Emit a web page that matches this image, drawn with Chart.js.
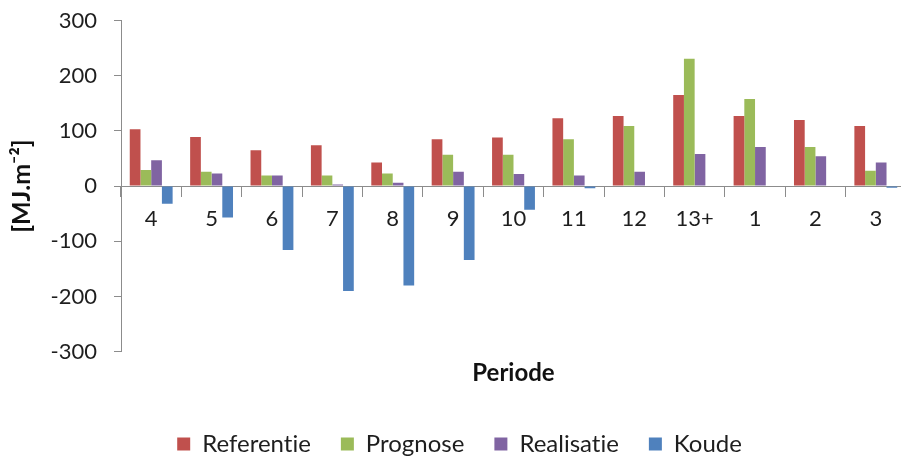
<!DOCTYPE html>
<html>
<head>
<meta charset="utf-8">
<script src="https://cdn.jsdelivr.net/npm/chart.js@4/dist/chart.umd.min.js"></script>
<style>
  html, body { margin: 0; padding: 0; background: #ffffff; overflow: hidden; }
  #wrap { position: absolute; left: 0; top: 0; }
</style>
</head>
<body>
<div id="wrap"><canvas id="c" width="920" height="466"></canvas></div>
<script>
// Periods (x categories)
const periods = ['4', '5', '6', '7', '8', '9', '10', '11', '12', '13+', '1', '2', '3'];

// Energy per period, MJ.m-2
const referentie = [103, 89, 65, 74, 43, 85, 88, 123, 127, 165, 127, 120, 109];
const prognose   = [29, 26, 19, 19, 23, 57, 57, 85, 109, 231, 158, 71, 28];
const realisatie = [47, 23, 19, 3, 6, 26, 22, 19, 26, 58, 71, 54, 43];
const koude      = [-32, -57, -116, -190, -180, -134, -43, -4, 0, 0, 0, 0, -3];

// Value axis ticks
const yTicks = [-300, -200, -100, 0, 100, 200, 300];

const FAMILY = 'Lato, "DejaVu Sans", sans-serif';
const AXIS_GREY = '#8c8c8c';
const TEXT = '#1e1e1e';

Chart.defaults.font.family = FAMILY;
Chart.defaults.color = TEXT;

const series = [
  { label: 'Referentie', data: referentie, color: '#C0504D' },
  { label: 'Prognose',   data: prognose,   color: '#9BBB59' },
  { label: 'Realisatie', data: realisatie, color: '#8064A2' },
  { label: 'Koude',      data: koude,      color: '#4F81BD' }
];

// Plain glyphs (no "ti" ligature) for all canvas text
const plainText = {
  id: 'plainText',
  beforeDraw(chart) {
    chart.ctx.textRendering = 'optimizeSpeed';
    chart.ctx.fontVariantLigatures = 'none';
  }
};

new Chart(document.getElementById('c'), {
  type: 'bar',
  plugins: [plainText],
  data: {
    labels: periods,
    datasets: series.map(s => ({
      label: s.label,
      data: s.data,
      backgroundColor: s.color,
      borderWidth: 0,
      xAxisID: 'x',
      yAxisID: 'y',
      barPercentage: 1.0,
      categoryPercentage: 0.71
    }))
  },
  options: {
    responsive: false,
    animation: false,
    layout: { padding: { top: 20.6, right: 0, bottom: 0, left: 0 } },
    plugins: {
      legend: {
        position: 'bottom',
        labels: {
          boxWidth: 13,
          boxHeight: 13,
          padding: 30,
          color: TEXT,
          font: { size: 24, family: FAMILY }
        }
      },
      tooltip: { enabled: false }
    },
    scales: {
      y: {
        type: 'linear',
        position: 'left',
        min: -300,
        max: 300,
        afterBuildTicks: scale => { scale.ticks = yTicks.map(v => ({ value: v })); },
        afterFit: scale => {
          scale.width = 121;
          scale.paddingTop = 0;
          scale.paddingBottom = 0;
        },
        grid: {
          drawOnChartArea: false,
          drawTicks: true,
          tickLength: 7,
          color: AXIS_GREY
        },
        border: { display: true, color: AXIS_GREY, width: 1 },
        ticks: {
          padding: 17,
          color: TEXT,
          font: { size: 22, family: FAMILY }
        },
        title: {
          display: true,
          text: '[MJ.m⁻²]',
          color: '#111111',
          padding: { top: 7, bottom: 0 },
          font: { size: 25, weight: 'bold', family: FAMILY }
        }
      },
      // empty right-hand strip beside the plot
      yRight: {
        type: 'linear',
        position: 'right',
        min: -300,
        max: 300,
        afterFit: scale => {
          scale.width = 14;
          scale.paddingTop = 0;
          scale.paddingBottom = 0;
        },
        grid: { display: false },
        border: { display: false },
        ticks: { display: false }
      },
      x: {
        type: 'category',
        position: { y: 0 },
        offset: true,
        grid: {
          offset: true,
          drawOnChartArea: false,
          drawTicks: true,
          tickLength: 10,
          color: AXIS_GREY
        },
        border: { display: true, color: AXIS_GREY, width: 1 },
        ticks: {
          padding: 10,
          maxRotation: 0,
          autoSkip: false,
          color: TEXT,
          font: { size: 22, family: FAMILY }
        }
      },
      x2: {
        type: 'category',
        position: 'bottom',
        offset: true,
        afterFit: scale => { scale.height = 50.4; },
        grid: { display: false },
        border: { display: false },
        ticks: { display: false },
        title: {
          display: true,
          text: 'Periode',
          color: '#111111',
          padding: { top: 0, bottom: 14.6 },
          font: { size: 24, weight: 'bold', family: FAMILY }
        }
      }
    }
  }
});
</script>
</body>
</html>
